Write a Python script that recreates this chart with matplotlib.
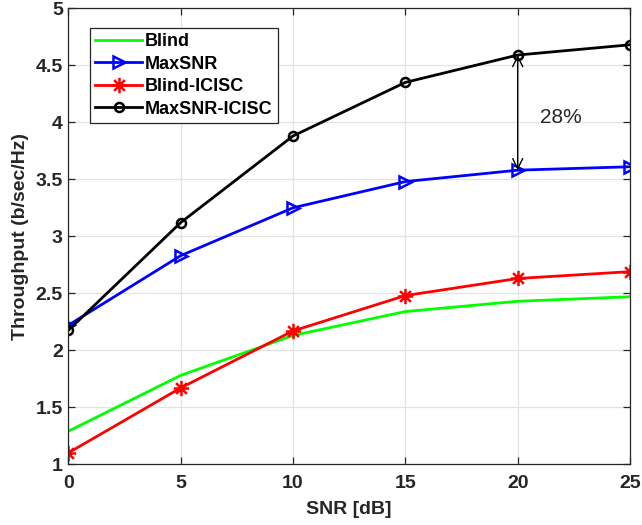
import matplotlib
matplotlib.use("Agg")
import matplotlib.pyplot as plt
from matplotlib.path import Path

plt.rcParams['font.family'] = ['Liberation Sans', 'DejaVu Sans']

snr = [0, 5, 10, 15, 20, 25]
blind = [1.29, 1.78, 2.13, 2.34, 2.43, 2.47]
maxsnr = [2.22, 2.83, 3.25, 3.48, 3.58, 3.61]
blind_icisc = [1.10, 1.67, 2.17, 2.48, 2.63, 2.69]
maxsnr_icisc = [2.175, 3.12, 3.88, 4.35, 4.59, 4.68]

xticks = [0, 5, 10, 15, 20, 25]
yticks = [1, 1.5, 2, 2.5, 3, 3.5, 4, 4.5, 5]
ytick_labels = ['1', '1.5', '2', '2.5', '3', '3.5', '4', '4.5', '5']

axis_col = '#262626'

# asterisk marker: a plus overlaid with a cross
d = 0.7071
asterisk = Path(
    [(-1, 0), (1, 0), (0, -1), (0, 1), (-d, -d), (d, d), (-d, d), (d, -d)],
    [Path.MOVETO, Path.LINETO] * 4)

fig = plt.figure(figsize=(6.42, 5.25), dpi=100)
ax = fig.add_axes([0.1064, 0.1156, 0.8750, 0.8686])

ax.plot(snr, blind, color='#00ff00', lw=2, label='Blind')
ax.plot(snr, maxsnr, color='#0000ff', lw=2, marker='>', ms=8.5, mfc='none',
        mew=1.8, label='MaxSNR')
ax.plot(snr, blind_icisc, color='#ff0000', lw=2, marker=asterisk, ms=11,
        mfc='none', mew=1.8, label='Blind-ICISC')
ax.plot(snr, maxsnr_icisc, color='black', lw=2, marker='o', ms=6.5, mfc='none',
        mew=1.8, label='MaxSNR-ICISC')

# gain between the two MaxSNR curves at 20 dB
i20 = snr.index(20)
ax.annotate('', xy=(20, maxsnr[i20]), xytext=(20, maxsnr_icisc[i20]),
            arrowprops=dict(arrowstyle='<->', color='black', lw=1,
                            shrinkA=0, shrinkB=0, mutation_scale=18))
gain = round((maxsnr_icisc[i20] / maxsnr[i20] - 1) * 100)
ax.text(21.9, 4.04, f'{gain}%', fontsize=15, ha='center', va='center',
        color=axis_col)

ax.set_xlim(0, 25)
ax.set_ylim(1, 5)
ax.set_xticks(xticks)
ax.set_yticks(yticks)
ax.set_yticklabels(ytick_labels)
ax.grid(True, color='#e3e3e3', lw=0.9)
ax.set_axisbelow(True)

for s in ax.spines.values():
    s.set_color(axis_col)
    s.set_linewidth(0.9)
ax.tick_params(direction='in', length=5, width=0.9, colors=axis_col,
               top=True, right=True, labelsize=14)
ax.tick_params(axis='x', pad=8)
ax.tick_params(axis='y', pad=4)
for lab in ax.get_xticklabels() + ax.get_yticklabels():
    lab.set_fontweight('bold')

ax.set_xlabel('SNR [dB]', fontsize=14, fontweight='bold', color=axis_col,
              labelpad=6)
ax.set_ylabel('Throughput (b/sec/Hz)', fontsize=14, fontweight='bold',
              color=axis_col, labelpad=5)

leg = ax.legend(loc='upper left', bbox_to_anchor=(0.0386, 0.957),
                prop={'weight': 'bold', 'size': 13}, handlelength=2.6,
                handletextpad=0.15, labelspacing=0.3, borderpad=0.3,
                fancybox=False, framealpha=1, edgecolor=axis_col,
                borderaxespad=0)
leg.get_frame().set_linewidth(0.9)
for t in leg.get_texts():
    t.set_color('black')

fig.savefig('out.png', dpi=100)
